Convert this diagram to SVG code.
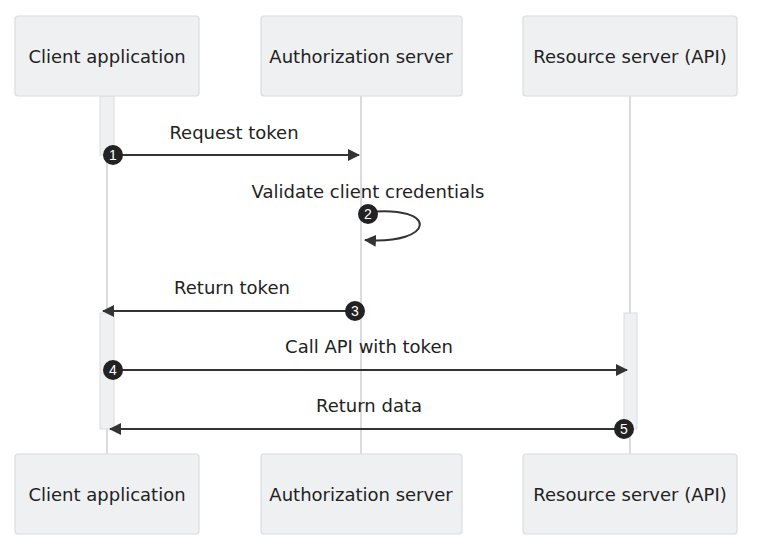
<svg xmlns="http://www.w3.org/2000/svg" width="782" height="541" viewBox="0 0 782 541">
<style>
.actor{fill:#eff0f2;stroke:#dadce0;stroke-width:1.2}
.atext{font-family:"DejaVu Sans",sans-serif;font-size:18px;fill:#222;text-anchor:middle;dominant-baseline:central}
.life{stroke:#dcdcdc;stroke-width:2}
.act{fill:#eff0f2;stroke:#dadce0;stroke-width:1}
.msg{stroke:#333;stroke-width:2;fill:none}
.mtext{font-family:"DejaVu Sans",sans-serif;font-size:18px;fill:#222;text-anchor:middle}
.num{fill:#222}
.ntext{font-family:"Liberation Sans",Arial,sans-serif;font-size:14px;fill:#fff;text-anchor:middle;dominant-baseline:central}
</style>
<defs>
<marker id="ah" markerWidth="12" markerHeight="12" refX="11" refY="6" orient="auto" markerUnits="userSpaceOnUse">
<path d="M0,0 L12,6 L0,12 z" fill="#333"/>
</marker>
</defs>
<g id="lifelines">
<line class="life" x1="107" y1="96" x2="107" y2="454"/>
<line class="life" x1="361" y1="96" x2="361" y2="454"/>
<line class="life" x1="630" y1="96" x2="630" y2="454"/>
</g>
<g id="activations">
<rect class="act" x="100" y="96" width="14" height="59"/>
<rect class="act" x="100" y="313" width="14" height="116"/>
<rect class="act" x="624" y="313" width="13" height="116"/>
</g>
<g id="client-top"><rect class="actor" x="15" y="16" width="184" height="80" rx="3"/><text class="atext" x="107" y="56">Client application</text></g>
<g id="auth-top"><rect class="actor" x="261" y="16" width="201" height="80" rx="3"/><text class="atext" x="361" y="56">Authorization server</text></g>
<g id="resource-top"><rect class="actor" x="523" y="16" width="214" height="80" rx="3"/><text class="atext" x="630" y="56">Resource server (API)</text></g>
<g id="client-bottom"><rect class="actor" x="15" y="454" width="184" height="80" rx="3"/><text class="atext" x="107" y="494">Client application</text></g>
<g id="auth-bottom"><rect class="actor" x="261" y="454" width="201" height="80" rx="3"/><text class="atext" x="361" y="494">Authorization server</text></g>
<g id="resource-bottom"><rect class="actor" x="523" y="454" width="214" height="80" rx="3"/><text class="atext" x="630" y="494">Resource server (API)</text></g>
<g id="connectors">
<line class="msg" x1="114" y1="155" x2="359" y2="155" marker-end="url(#ah)"/>
<text class="mtext" x="234" y="139">Request token</text>
<path class="msg" d="M368,212 C440,205 435,245 365,240" marker-end="url(#ah)"/>
<text class="mtext" x="368" y="198">Validate client credentials</text>
<line class="msg" x1="355" y1="311" x2="103" y2="311" marker-end="url(#ah)"/>
<text class="mtext" x="232" y="294">Return token</text>
<line class="msg" x1="113" y1="370" x2="627" y2="370" marker-end="url(#ah)"/>
<text class="mtext" x="369" y="353">Call API with token</text>
<line class="msg" x1="624" y1="429" x2="110" y2="429" marker-end="url(#ah)"/>
<text class="mtext" x="369" y="412">Return data</text>
</g>
<g id="numbers">
<circle class="num" cx="113" cy="155" r="10"/><text class="ntext" x="113" y="155">1</text>
<circle class="num" cx="368" cy="214" r="10"/><text class="ntext" x="368" y="214">2</text>
<circle class="num" cx="355" cy="311" r="10"/><text class="ntext" x="355" y="311">3</text>
<circle class="num" cx="113" cy="370" r="10"/><text class="ntext" x="113" y="370">4</text>
<circle class="num" cx="624" cy="429" r="10"/><text class="ntext" x="624" y="429">5</text>
</g>
</svg>
